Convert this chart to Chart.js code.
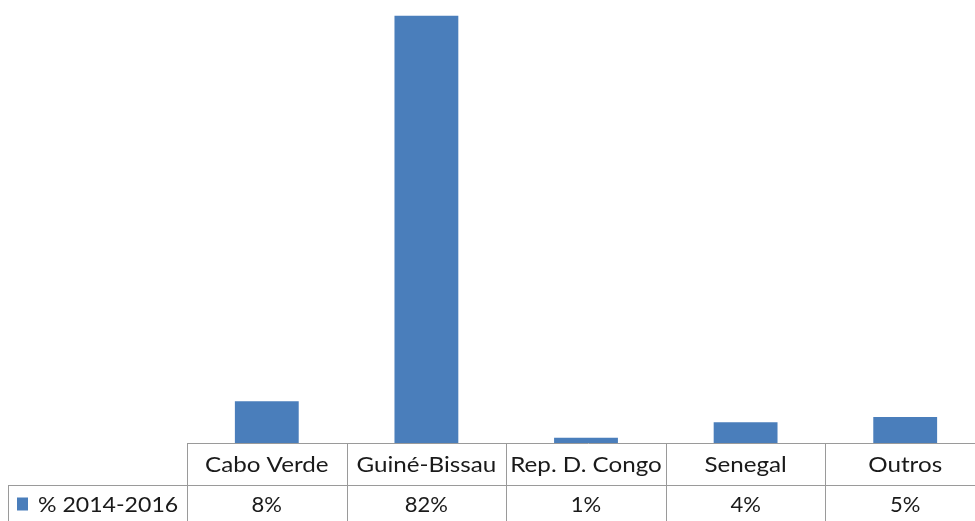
<!DOCTYPE html>
<html>
<head>
<meta charset="utf-8">
<script src="https://cdn.jsdelivr.net/npm/chart.js@4"></script>
<style>
  html, body { margin: 0; padding: 0; background: #fff; overflow: hidden; }
  #wrap { width: 990px; height: 521px; }
</style>
</head>
<body>
<div id="wrap"><canvas id="chart" width="990" height="521"></canvas></div>
<script>
// data
const categories = ['Cabo Verde', 'Guiné-Bissau', 'Rep. D. Congo', 'Senegal', 'Outros'];
const seriesName = '% 2014-2016';
const values = [8, 82, 1, 4, 5];

const barColor = '#4a7ebb';
const gridColor = '#9a9a9a';
const textColor = '#1a1a1a';
const tableFont = '22px Lato, Carlito, sans-serif';

// Lato stretched a bit to get Calibri-ish widths
function drawText(ctx, text, x, y, align, sx) {
  ctx.save();
  ctx.translate(x, y);
  ctx.scale(sx || 1.1, 1);
  ctx.textAlign = align;
  ctx.fillText(text, 0, 0);
  ctx.restore();
}

// Excel-style data table under the plot
const dataTable = {
  id: 'dataTable',
  afterDraw(chart) {
    const ctx = chart.ctx;
    const area = chart.chartArea;
    const x = chart.scales.x;
    const step = x.getPixelForValue(1) - x.getPixelForValue(0);
    const top = Math.round(area.bottom) + 0.5;
    const mid = top + 42;
    const bottom = chart.height + 2;

    ctx.save();
    ctx.strokeStyle = gridColor;
    ctx.lineWidth = 1;
    ctx.beginPath();
    ctx.moveTo(area.left, top); ctx.lineTo(chart.width, top);
    ctx.moveTo(8, mid); ctx.lineTo(chart.width, mid);
    ctx.moveTo(8.5, mid); ctx.lineTo(8.5, bottom);
    for (let i = 0; i <= categories.length; i++) {
      const px = Math.round(x.getPixelForValue(i) - step / 2) + 0.5;
      ctx.moveTo(px, top); ctx.lineTo(px, bottom);
    }
    ctx.stroke();

    ctx.fillStyle = textColor;
    ctx.font = tableFont;
    ctx.textBaseline = 'middle';
    categories.forEach((c, i) => {
      const cx = x.getPixelForValue(i);
      drawText(ctx, c, cx, top + 21, 'center');
      drawText(ctx, values[i] + '%', cx, mid + 19, 'center', 1.0);
    });

    // legend key + series name
    ctx.fillStyle = barColor;
    ctx.fillRect(17, mid + 12, 11, 13);
    ctx.fillStyle = textColor;
    drawText(ctx, seriesName, 38, mid + 19, 'left', 1.05);
    ctx.restore();
  }
};

new Chart(document.getElementById('chart'), {
  type: 'bar',
  data: {
    labels: categories,
    datasets: [{
      label: seriesName,
      data: values,
      backgroundColor: barColor,
      borderWidth: 0,
      categoryPercentage: 1,
      barPercentage: 0.4
    }]
  },
  options: {
    responsive: false,
    animation: false,
    layout: { padding: { left: 187, right: 5, top: 0, bottom: 78 } },
    plugins: {
      legend: { display: false },
      tooltip: { enabled: false }
    },
    scales: {
      x: { display: false },
      y: { display: false, min: 0, max: 85 }
    }
  },
  plugins: [dataTable]
});
</script>
</body>
</html>
